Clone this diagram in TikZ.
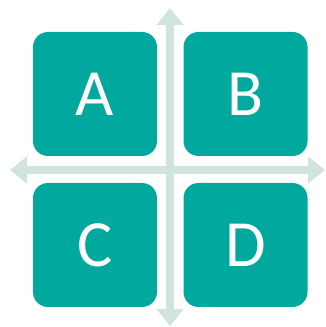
\documentclass[tikz,border=0pt]{standalone}
\usepackage{fontspec}
\setmainfont{Carlito}
\usepackage{tikz}
\usetikzlibrary{arrows.meta}

\definecolor{teal}{RGB}{0,168,157}
\definecolor{axisgray}{RGB}{207,227,223}

\begin{document}
\begin{tikzpicture}[x=1pt,y=1pt,<->,>={Triangle[width=26pt,length=17pt]}]
\tikzstyle{every node}=[rectangle,rounded corners=15pt,fill=teal,text=white,minimum size=124pt,inner sep=0pt,font=\fontsize{66}{66}\selectfont]
\useasboundingbox (0,0) rectangle (326,327);
\coordinate (left) at (10,157);
\coordinate (right) at (325,157);
\coordinate (top) at (170,319);
\coordinate (bottom) at (170,1);
\draw[axisgray,line width=8pt] (left) -- (right);
\draw[axisgray,line width=8pt] (bottom) -- (top);
\node (A) at (95,233) {A};
\node (B) at (245.5,233) {B};
\node (C) at (95,82) {C};
\node (D) at (245.5,82) {D};
\end{tikzpicture}
\end{document}
